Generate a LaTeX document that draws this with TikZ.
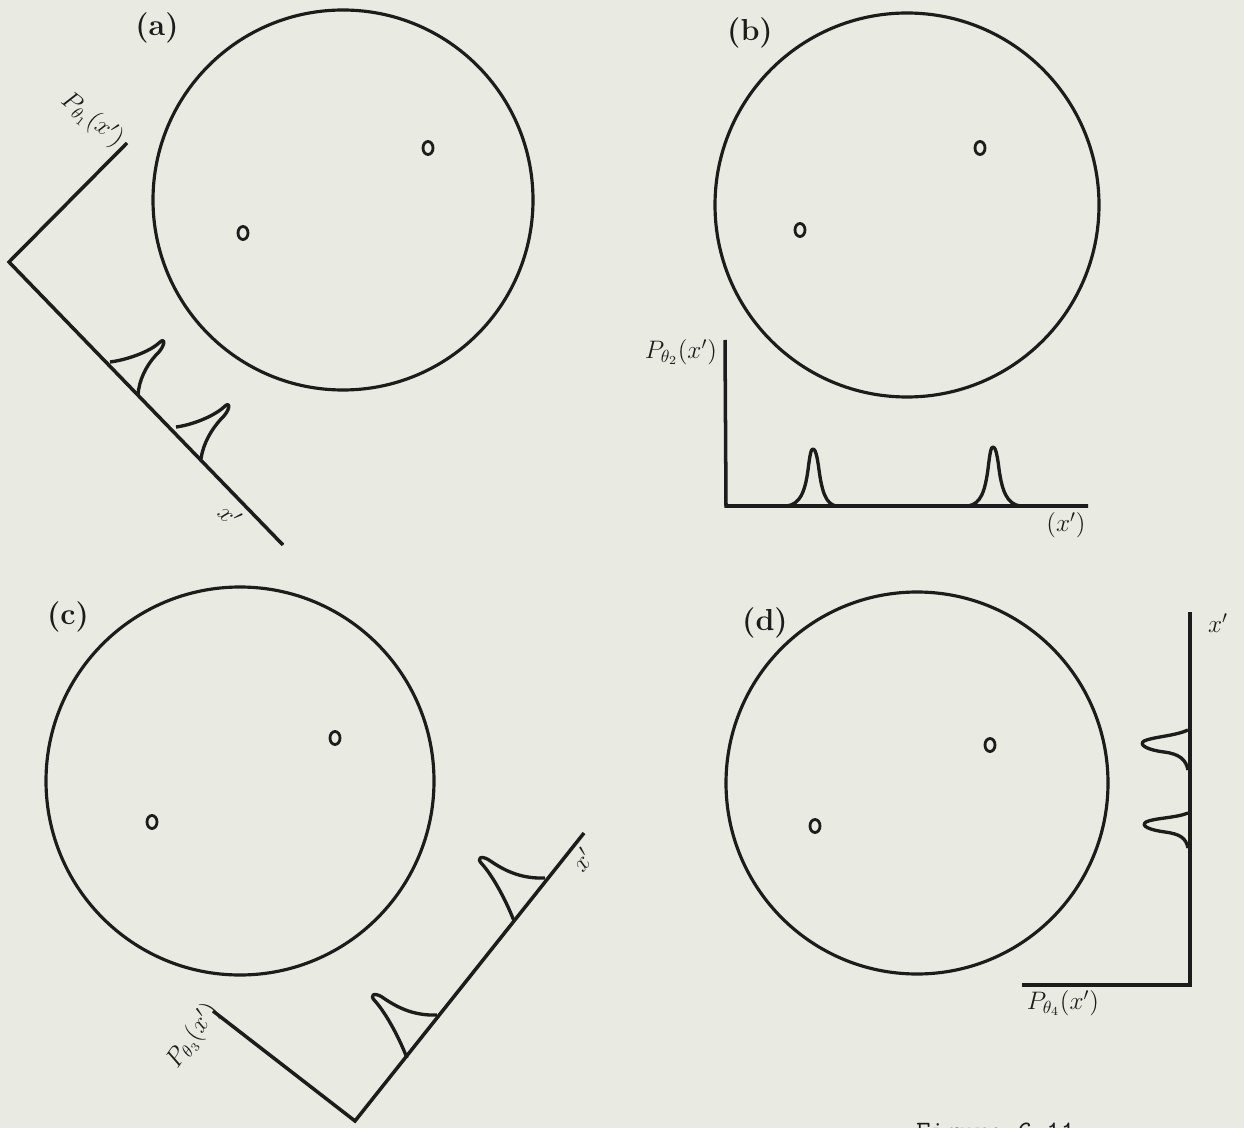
\documentclass[tikz,border=0pt]{standalone}
\usepackage{amsmath}
\usepackage{amssymb}
\usetikzlibrary{positioning,calc}

\definecolor{paper}{RGB}{233,234,226}
\definecolor{ink}{RGB}{28,28,28}

\begin{document}
\begin{tikzpicture}[
    x=0.02cm,
    y=-0.02cm,
    disc/.style={
        draw=ink,
        line width=1.8pt
    },
    spot/.style={
        draw=ink,
        line width=1.6pt
    },
    axis/.style={
        draw=ink,
        line width=2pt,
        line join=miter
    },
    peak/.style={
        draw=ink,
        line width=1.9pt,
        line join=round
    },
    panel/.style={
        font=\LARGE\bfseries,
        text=ink
    },
    axlabel/.style={
        font=\Large,
        text=ink,
        inner sep=1pt
    }
]

\clip (0,0) rectangle (1244,1128);
\fill[paper] (0,0) rectangle (1244,1128);

% --- (a): projection at 45 degrees ---
\node[panel] (lbla) at (157,28) {(a)};
\draw[disc] (343,200) circle[radius=190];
\draw[spot] (428,148) ellipse[x radius=5, y radius=6.5];
\draw[spot] (243,233) ellipse[x radius=5, y radius=6.5];
\coordinate (pa) at (127,143);
\coordinate (oa) at (9,262);
\coordinate (xa) at (283,545);
\draw[axis] (pa) -- (oa) -- (xa);
\draw[peak] (110,362) .. controls (126,360) and (150,352) .. (160,342)
    .. controls (166,337) and (165,347) .. (156,355)
    .. controls (146,366) and (139,380) .. (138,395);
\draw[peak] (176,427) .. controls (192,425) and (215,416) .. (225,406)
    .. controls (231,401) and (230,411) .. (221,419)
    .. controls (211,430) and (203,444) .. (201,459);
\node[axlabel, rotate=-38] (pta) at (92,120) {$P_{\theta_1}(x')$};
\node[axlabel, rotate=-45] (xla) at (230,515) {$x'$};

% --- (b): projection on horizontal axis ---
\node[panel] (lblb) at (750,33) {(b)};
\draw[disc] (907,205) circle[radius=192];
\draw[spot] (980,148) ellipse[x radius=5, y radius=6.5];
\draw[spot] (800,230) ellipse[x radius=5, y radius=6.5];
\coordinate (pb) at (725,340);
\coordinate (ob) at (726,506);
\coordinate (xb) at (1088,506);
\draw[axis] (pb) -- (ob) -- (xb);
\draw[peak] (787,506) .. controls (800,504) and (805,492) .. (808,470)
    .. controls (810,454) and (811,449) .. (813,449)
    .. controls (815,449) and (817,454) .. (819,470)
    .. controls (822,492) and (826,504) .. (836,506);
\draw[peak] (968,506) .. controls (981,504) and (985,491) .. (988,469)
    .. controls (990,452) and (991,447) .. (993,447)
    .. controls (995,447) and (997,452) .. (999,469)
    .. controls (1002,491) and (1007,504) .. (1020,506);
\node[axlabel, anchor=east] (ptb) at (719,352) {$P_{\theta_2}(x')$};
\node[axlabel] (xlb) at (1066,525) {$(x')$};

% --- (c): projection at 135 degrees ---
\node[panel] (lblc) at (68,617) {(c)};
\draw[disc] (240,781) circle[radius=194];
\draw[spot] (335,738) ellipse[x radius=5, y radius=6.5];
\draw[spot] (152,822) ellipse[x radius=5, y radius=6.5];
\coordinate (pc) at (213,1011);
\coordinate (oc) at (355,1121);
\coordinate (xc) at (584,833);
\draw[axis] (pc) -- (oc) -- (xc);
\draw[peak] (407,1058) .. controls (398,1035) and (385,1012) .. (375,1001)
    .. controls (369,995) and (374,992) .. (382,997)
    .. controls (395,1006) and (412,1016) .. (437,1015);
\draw[peak] (514,921) .. controls (505,898) and (492,875) .. (482,864)
    .. controls (476,858) and (481,855) .. (489,860)
    .. controls (502,869) and (519,879) .. (545,878);
\node[axlabel, rotate=55] (ptc) at (193,1036) {$P_{\theta_3}(x')$};
\node[axlabel, rotate=50] (xlc) at (582,860) {$x'$};

% --- (d): projection on vertical axis ---
\node[panel] (lbld) at (765,623) {(d)};
\draw[disc] (917,783) circle[radius=191];
\draw[spot] (990,745) ellipse[x radius=5, y radius=6.5];
\draw[spot] (815,826) ellipse[x radius=5, y radius=6.5];
\coordinate (pd) at (1190,612);
\coordinate (od) at (1190,985);
\coordinate (xd) at (1022,985);
\draw[axis] (pd) -- (od) -- (xd);
\draw[peak] (1188,730) .. controls (1175,736) and (1152,737) .. (1144,741)
    .. controls (1138,745) and (1148,750) .. (1164,752)
    .. controls (1180,754) and (1186,760) .. (1188,770);
\draw[peak] (1188,813) .. controls (1176,818) and (1154,818) .. (1146,822)
    .. controls (1140,826) and (1150,830) .. (1165,832)
    .. controls (1180,834) and (1186,838) .. (1188,848);
\node[axlabel] (xld) at (1218,623) {$x'$};
\node[axlabel] (ptd) at (1063,1003) {$P_{\theta_4}(x')$};

% --- caption, cut by the page edge ---
\node[font=\fontsize{16}{18}\selectfont\ttfamily, text=ink, anchor=base west] (cap) at (910,1140) {Figure 6.11};

\end{tikzpicture}
\end{document}
